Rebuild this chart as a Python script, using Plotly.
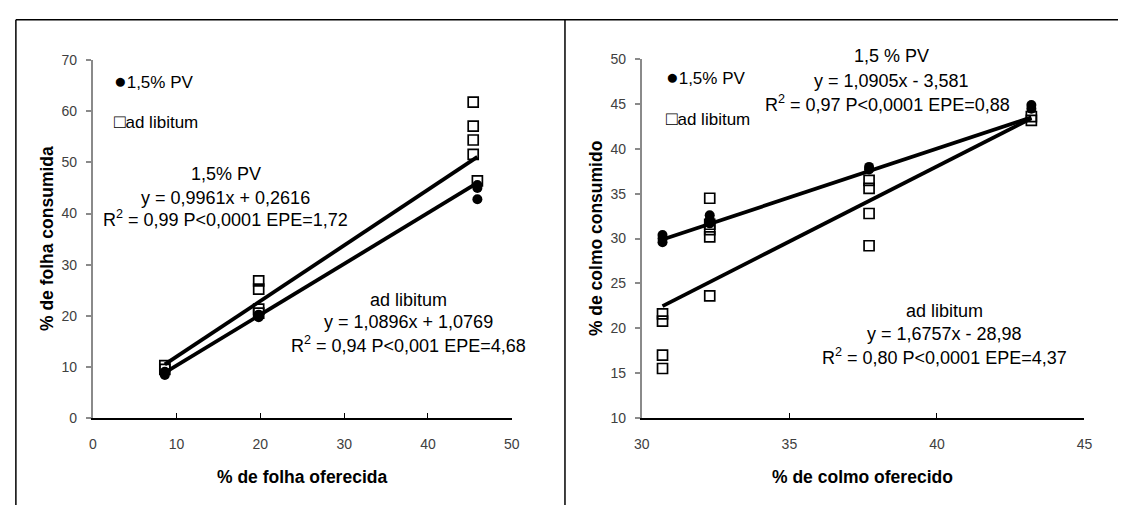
import numpy as np
import plotly.graph_objects as go

W, H = 1126, 513

# ---------------- data ----------------
# Left panel: % de folha
folha_pv_x = [8.6, 8.6, 19.8, 19.8, 45.9, 45.9, 45.9]
folha_pv_y = [8.4, 9.0, 19.7, 20.2, 45.6, 45.0, 42.8]
folha_al_x = [8.6, 8.6, 19.8, 19.8, 19.8, 19.8, 45.4, 45.4, 45.4, 45.4, 45.9]
folha_al_y = [9.5, 10.2, 26.8, 25.2, 21.3, 20.5, 61.8, 57.1, 54.4, 51.6, 46.4]
folha_pv_coef = [0.9961, 0.2616]
folha_al_coef = [1.0896, 1.0769]

# Right panel: % de colmo
colmo_pv_x = [30.7, 30.7, 30.7, 32.3, 32.3, 32.3, 37.7, 37.7, 43.2, 43.2]
colmo_pv_y = [30.4, 30.0, 29.6, 32.6, 32.1, 31.7, 38.0, 37.7, 44.9, 44.5]
colmo_al_x = [30.7, 30.7, 30.7, 30.7, 32.3, 32.3, 32.3, 32.3, 32.3,
              37.7, 37.7, 37.7, 37.7, 43.2, 43.2]
colmo_al_y = [21.6, 20.8, 17.0, 15.5, 34.5, 31.6, 31.0, 30.2, 23.6,
              36.5, 35.6, 32.8, 29.2, 43.6, 43.2]
colmo_pv_coef = [1.0905, -3.581]
colmo_al_coef = [1.6757, -28.98]

left_xticks = [0, 10, 20, 30, 40, 50]
left_yticks = [0, 10, 20, 30, 40, 50, 60, 70]
right_xticks = [30, 35, 40, 45]
right_yticks = [10, 15, 20, 25, 30, 35, 40, 45, 50]

FONT = "Liberation Sans, Arial, sans-serif"


def px(x):
    return x / W


def py(y):
    return 1 - y / H


def fit_line(xs, coef):
    xr = np.array([min(xs), max(xs)])
    return xr, coef[0] * xr + coef[1]


fig = go.Figure()


def add_panel(xa, ya, pv_x, pv_y, al_x, al_y, pv_coef, al_coef):
    fig.add_trace(go.Scatter(x=al_x, y=al_y, mode="markers", xaxis=xa, yaxis=ya,
                             marker=dict(symbol="square-open", size=10, color="black",
                                         line=dict(width=1.7, color="black")),
                             showlegend=False, cliponaxis=False))
    fig.add_trace(go.Scatter(x=pv_x, y=pv_y, mode="markers", xaxis=xa, yaxis=ya,
                             marker=dict(symbol="circle", size=10, color="black"),
                             showlegend=False, cliponaxis=False))
    for xs, coef in ((pv_x, pv_coef), (al_x, al_coef)):
        lx, ly = fit_line(xs, coef)
        fig.add_trace(go.Scatter(x=lx, y=ly, mode="lines", xaxis=xa, yaxis=ya,
                                 line=dict(color="black", width=3.8),
                                 showlegend=False, cliponaxis=False))


add_panel("x", "y", folha_pv_x, folha_pv_y, folha_al_x, folha_al_y,
          folha_pv_coef, folha_al_coef)
add_panel("x2", "y2", colmo_pv_x, colmo_pv_y, colmo_al_x, colmo_al_y,
          colmo_pv_coef, colmo_al_coef)

tickfont = dict(family=FONT, size=14, color="#404040")


def xaxis_cfg(domain, rng, ticks, anchor):
    return dict(domain=domain, range=rng, tickvals=ticks, anchor=anchor,
                showline=True, linecolor="black", linewidth=1.5,
                ticks="inside", ticklen=5, tickcolor="black", tickwidth=1,
                showgrid=False, zeroline=False, tickfont=tickfont,
                ticklabelstandoff=13, fixedrange=True)


def yaxis_cfg(domain, rng, ticks, anchor):
    return dict(domain=domain, range=rng, tickvals=ticks, anchor=anchor,
                showline=True, linecolor="#8a8a8a", linewidth=2,
                ticks="outside", ticklen=5, tickcolor="#8a8a8a", tickwidth=1.5,
                showgrid=False, zeroline=False, tickfont=tickfont,
                ticklabelstandoff=6, fixedrange=True)


fig.update_layout(
    width=W, height=H,
    margin=dict(l=0, r=0, t=0, b=0),
    paper_bgcolor="white", plot_bgcolor="white",
    showlegend=False,
    xaxis=xaxis_cfg([px(86), px(511)], [0, 50], left_xticks, "y"),
    yaxis=yaxis_cfg([py(423), py(54)], [0, 70], left_yticks, "x"),
    xaxis2=xaxis_cfg([px(643), px(1092)], [30, 45], right_xticks, "y2"),
    yaxis2=yaxis_cfg([py(423), py(53)], [10, 50], right_yticks, "x2"),
)

# frame lines
frame = dict(color="black", width=1.5)
fig.add_shape(type="line", xref="paper", yref="paper", x0=px(8), x1=1,
              y0=py(12), y1=py(12), line=frame)
fig.add_shape(type="line", xref="paper", yref="paper", x0=px(8), x1=px(8),
              y0=py(12), y1=0, line=frame)
fig.add_shape(type="line", xref="paper", yref="paper", x0=px(565), x1=px(565),
              y0=py(12), y1=0, line=frame)


def note(text, x, y, size=18, bold=False, angle=0, xanchor="center"):
    t = "<b>" + text + "</b>" if bold else text
    fig.add_annotation(text=t, x=px(x), y=py(y), xref="paper", yref="paper",
                       showarrow=False, xanchor=xanchor, yanchor="middle",
                       textangle=angle,
                       font=dict(family=FONT, size=size, color="black"))


# axis titles
note("% de folha oferecida", 298, 484, size=17.5, bold=True)
note("% de folha consumida", 39, 238, size=17.5, bold=True, angle=-90)
note("% de colmo oferecido", 867, 484, size=17.5, bold=True)
note("% de colmo consumido", 596, 238, size=17.5, bold=True, angle=-90)

# legend-like text boxes
dot = '<span style="font-size:21px">●</span>'
box = '<span style="font-size:19px">□</span>'
note(dot + "1,5% PV", 106, 75, size=17, xanchor="left")
note(box + "ad libitum", 106, 117, size=17, xanchor="left")
note(dot + "1,5% PV", 665, 71, size=17, xanchor="left")
note(box + "ad libitum", 665, 114, size=17, xanchor="left")

# equations, left panel
note("1,5% PV", 221, 171)
note("y = 0,9961x + 0,2616", 221, 196)
note("R<sup>2</sup> = 0,99 P&lt;0,0001 EPE=1,72", 221, 217)
note("ad libitum", 406, 301)
note("y = 1,0896x + 1,0769", 406, 324)
note("R<sup>2</sup> = 0,94 P&lt;0,001 EPE=4,68", 406, 347)

# equations, right panel
note("1,5 % PV", 896, 50)
note("y = 1,0905x - 3,581", 896, 75)
note("R<sup>2</sup> = 0,97 P&lt;0,0001 EPE=0,88", 892, 99)
note("ad libitum", 950, 313)
note("y = 1,6757x - 28,98", 950, 337)
note("R<sup>2</sup> = 0,80 P&lt;0,0001 EPE=4,37", 950, 360)

fig.write_html("out.html")
